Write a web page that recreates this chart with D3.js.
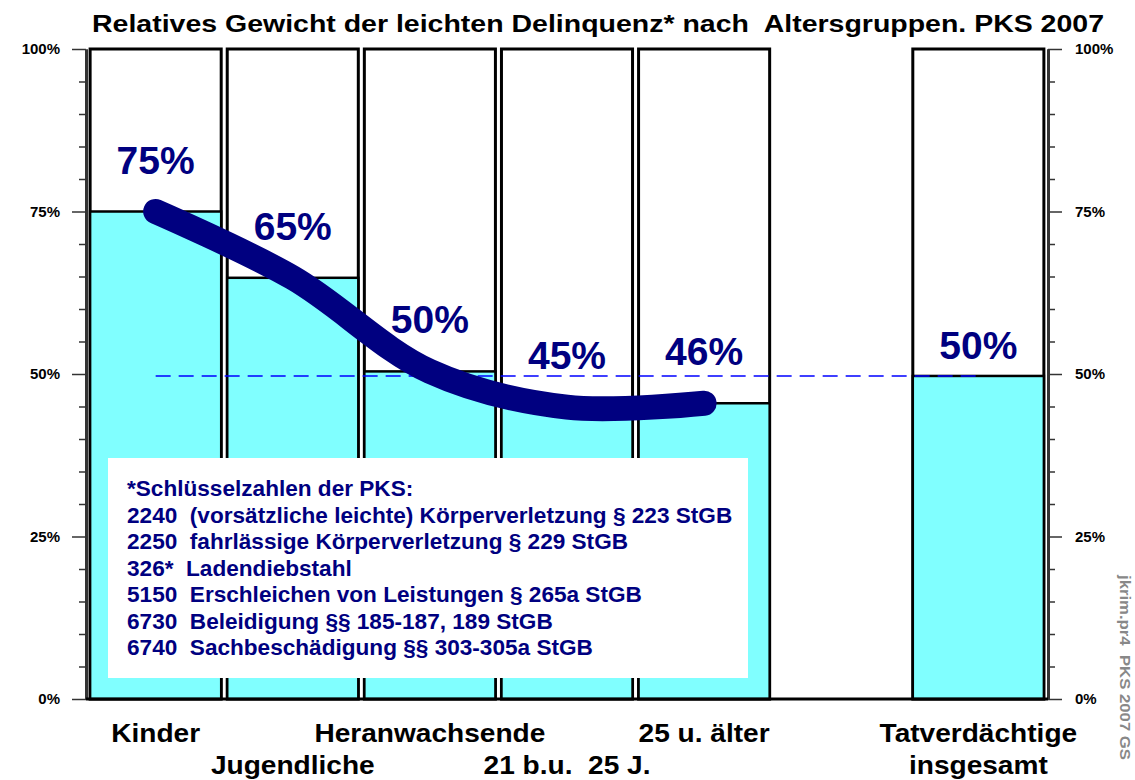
<!DOCTYPE html>
<html>
<head>
<meta charset="utf-8">
<script src="https://cdn.jsdelivr.net/npm/d3@7"></script>
<style>
  html, body { margin: 0; padding: 0; background: #ffffff; }
  svg { display: block; font-family: "Liberation Sans", Arial, sans-serif; }
  text { white-space: pre; }
</style>
</head>
<body>
<svg id="chart" width="1135" height="780"></svg>
<script>
// ---- data ----
const categories = ["Kinder", "Jugendliche", "Heranwachsende", "21 b.u.  25 J.", "25 u. älter", "", "Tatverdächtige insgesamt"];
const labelLines = [["Kinder"], ["Jugendliche"], ["Heranwachsende"], ["21 b.u.  25 J."], ["25 u. älter"], [], ["Tatverdächtige", "insgesamt"]];
const values = [75, 64.8, 50.4, 44.9, 45.5, null, 49.7];
const trendValues = [75, 64.8, 50.4, 44.9, 45.5];
const yTicksMajor = [0, 25, 50, 75, 100];
const yTicksMinor = [5, 10, 15, 20, 30, 35, 40, 45, 55, 60, 65, 70, 80, 85, 90, 95];
const title = "Relatives Gewicht der leichten Delinquenz* nach  Altersgruppen. PKS 2007";
const legendLines = [
  "*Schlüsselzahlen der PKS:",
  "2240  (vorsätzliche leichte) Körperverletzung § 223 StGB",
  "2250  fahrlässige Körperverletzung § 229 StGB",
  "326*  Ladendiebstahl",
  "5150  Erschleichen von Leistungen § 265a StGB",
  "6730  Beleidigung §§ 185-187, 189 StGB",
  "6740  Sachbeschädigung §§ 303-305a StGB"
];
const watermark = "jkrim.pr4  PKS 2007 GS";

// ---- layout ----
const svg = d3.select("#chart");
const plotL = 86, plotR = 1048, plotT = 49, plotB = 699;
const x = d3.scaleBand().domain(d3.range(categories.length)).range([plotL, plotR]).paddingInner(0.044).paddingOuter(0.03);
const y = d3.scaleLinear().domain([0, 100]).range([plotB, plotT]);
const navy = "#000080";
const cyan = "#80FFFF";

// title
svg.append("text").attr("x", 92).attr("y", 31.5)
  .attr("textLength", 1012).attr("lengthAdjust", "spacingAndGlyphs")
  .attr("font-size", 23.5).attr("font-weight", "bold").attr("fill", "#000").text(title);

// bars
const idx = d3.range(categories.length).filter(i => values[i] !== null);
const g = svg.append("g");
g.selectAll("rect.bg").data(idx).join("rect").attr("class", "bg")
  .attr("x", i => x(i)).attr("y", y(100)).attr("width", x.bandwidth()).attr("height", y(0) - y(100))
  .attr("fill", "#fff").attr("stroke", "#000").attr("stroke-width", 3);
g.selectAll("rect.val").data(idx).join("rect").attr("class", "val")
  .attr("x", i => x(i)).attr("y", i => y(values[i])).attr("width", x.bandwidth()).attr("height", i => y(0) - y(values[i]))
  .attr("fill", cyan).attr("stroke", "#000").attr("stroke-width", 2.5);

// axes
function axisStyle(sel) {
  sel.attr("font-size", 15).attr("font-family", "Liberation Sans, Arial, sans-serif");
  sel.selectAll("path.domain").attr("stroke", "#333").attr("stroke-width", 3);
  sel.selectAll(".tick line").attr("stroke", "#333").attr("stroke-width", 1.5);
  sel.selectAll(".tick text").attr("font-size", 15).attr("font-weight", "bold").attr("fill", "#000");
}
const fmt = d => d + "%";
svg.append("g").attr("transform", `translate(${plotL},0)`)
  .call(d3.axisLeft(y).tickValues(yTicksMinor).tickSize(7).tickFormat("").tickSizeOuter(0)).call(axisStyle);
svg.append("g").attr("transform", `translate(${plotL},0)`)
  .call(d3.axisLeft(y).tickValues(yTicksMajor).tickSize(14).tickPadding(12).tickFormat(fmt).tickSizeOuter(0)).call(axisStyle);
svg.append("g").attr("transform", `translate(${plotR},0)`)
  .call(d3.axisRight(y).tickValues(yTicksMinor).tickSize(7).tickFormat("").tickSizeOuter(0)).call(axisStyle);
svg.append("g").attr("transform", `translate(${plotR},0)`)
  .call(d3.axisRight(y).tickValues(yTicksMajor).tickSize(14).tickPadding(13).tickFormat(fmt).tickSizeOuter(0)).call(axisStyle);

// baseline
svg.append("line").attr("x1", plotL).attr("x2", plotR).attr("y1", y(0)).attr("y2", y(0))
  .attr("stroke", "#000").attr("stroke-width", 3);

// legend box
const lg = svg.append("g");
lg.append("rect").attr("x", 108).attr("y", 458).attr("width", 640).attr("height", 220).attr("fill", "#fff");
lg.selectAll("text").data(legendLines).join("text")
  .attr("x", 127).attr("y", (d, i) => 496 + i * 26.5)
  .attr("font-size", 22.6).attr("font-weight", "bold").attr("fill", navy).text(d => d);

// dashed reference line at total level
const totalIdx = categories.length - 1;
svg.append("line")
  .attr("x1", x(0) + x.bandwidth() / 2).attr("x2", x(totalIdx) + x.bandwidth() / 2)
  .attr("y1", y(values[totalIdx])).attr("y2", y(values[totalIdx]))
  .attr("stroke", "#0000FF").attr("stroke-width", 1.5).attr("stroke-dasharray", "15,8");

// trend curve
const line = d3.line().x((d, i) => x(i) + x.bandwidth() / 2).y(d => y(d)).curve(d3.curveCatmullRom.alpha(0.5));
svg.append("path").datum(trendValues).attr("d", line)
  .attr("fill", "none").attr("stroke", navy).attr("stroke-width", 25)
  .attr("stroke-linecap", "round").attr("stroke-linejoin", "round");

// value labels
svg.selectAll("text.vl").data(idx).join("text").attr("class", "vl")
  .attr("x", i => x(i) + x.bandwidth() / 2)
  .attr("y", i => y(values[i]) - (i === totalIdx ? 17 : 38))
  .attr("text-anchor", "middle").attr("font-size", 39).attr("font-weight", "bold").attr("fill", navy)
  .text(i => Math.round(values[i]) + "%");

// category labels
const rows = [742, 774];
idx.forEach(i => {
  const lines = labelLines[i];
  lines.forEach((t, k) => {
    const row = lines.length > 1 ? k : (i % 2);
    svg.append("text")
      .attr("transform", `translate(${x(i) + x.bandwidth() / 2},${rows[row]}) scale(1.08,1)`)
      .attr("text-anchor", "middle").attr("font-size", 26).attr("font-weight", "bold").attr("fill", "#000").text(t);
  });
});

// watermark
svg.append("text").attr("transform", "translate(1120,575) rotate(90)")
  .attr("textLength", 185).attr("lengthAdjust", "spacingAndGlyphs")
  .attr("font-size", 14.5).attr("font-weight", "bold").attr("fill", "#888").text(watermark);
</script>
</body>
</html>
